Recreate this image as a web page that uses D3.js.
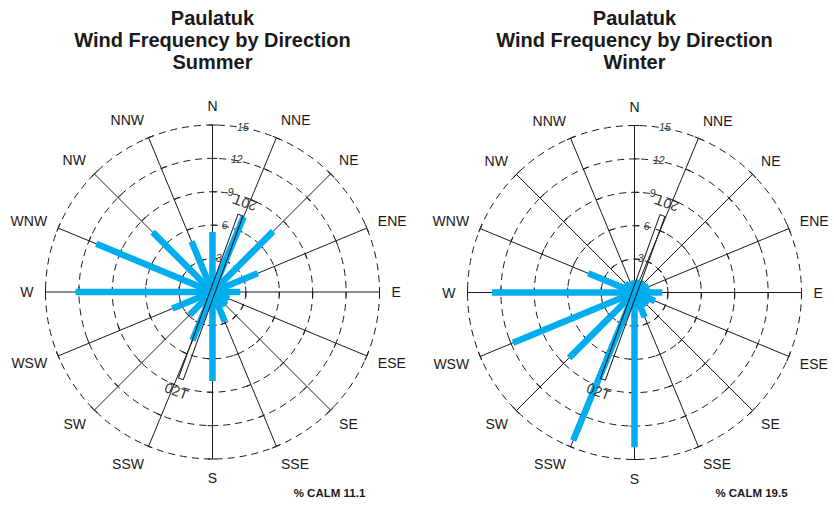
<!DOCTYPE html>
<html>
<head>
<meta charset="utf-8">
<script src="https://cdn.jsdelivr.net/npm/d3@7"></script>
<style>
	body { margin: 0; background: #fff; }
	svg { display: block; font-family: 'Liberation Sans', Arial, sans-serif; }
</style>
</head>
<body>
<div id="chart"></div>
<script>
// wind rose data (percent frequency by direction)
const directions = ['N','NNE','NE','ENE','E','ESE','SE','SSE','S','SSW','SW','WSW','W','WNW','NW','NNW']
const summer = [5.4, 7.3, 7.7, 4.4, 2.5, 1.6, 1.7, 2.9, 8.0, 4.7, 2.9, 3.9, 12.3, 11.3, 7.6, 4.9]
const winter = [1.1, 1.2, 1.3, 1.4, 2.5, 2.0, 1.6, 2.4, 13.9, 14.4, 8.3, 11.8, 12.8, 4.5, 1.2, 1.0]
const ringTicks = [3, 6, 9, 12, 15]
const calm = { summer: 11.1, winter: 19.5 }
const seasons = ['Summer', 'Winter']
const station = 'Paulatuk'

// runway 02T / 20T
const runwayHeading = 20
const runwayNorth = 7.35
const runwaySouth = 8.3

const W = 834, H = 506
const blue = '#00adef'
const ink = '#1a1a1a'

const svg = d3.select('#chart')
	.append('svg')
	.attr('width', W)
	.attr('height', H)

const r = d3.scaleLinear().domain([0, 15]).range([0, 167])
const ang = d3.scaleLinear().domain([0, directions.length]).range([0, 360])

function pt(deg, rad) {
	const a = deg * Math.PI / 180
	return [rad * Math.sin(a), -rad * Math.cos(a)]
}

function rose(cx, cy, season, values, calmValue) {
	const g = svg.append('g').attr('transform', `translate(${cx},${cy})`)

	// title
	const title = svg.append('text')
		.attr('x', cx)
		.attr('text-anchor', 'middle')
		.attr('font-weight', 'bold')
		.attr('font-size', 20)
		.attr('fill', ink)
	;[station, 'Wind Frequency by Direction', season].forEach((t, i) => {
		title.append('tspan').attr('x', cx).attr('y', 25 + i * 22).text(t)
	})

	// dashed rings
	g.selectAll('.ring')
		.data(ringTicks)
		.join('circle')
		.attr('r', d => r(d))
		.attr('fill', 'none')
		.attr('stroke', ink)
		.attr('stroke-width', 1)
		.attr('stroke-dasharray', '7,5')

	// spokes
	g.selectAll('.spoke')
		.data(directions)
		.join('line')
		.attr('x1', 0).attr('y1', 0)
		.attr('x2', (d, i) => pt(ang(i), r(15))[0])
		.attr('y2', (d, i) => pt(ang(i), r(15))[1])
		.attr('stroke', ink)
		.attr('stroke-width', 1)

	// ticks on spokes
	const ticks = []
	directions.forEach((d, i) => ringTicks.forEach(v => ticks.push({ i, v })))
	g.selectAll('.tick')
		.data(ticks)
		.join('line')
		.attr('transform', d => `rotate(${ang(d.i)}) translate(0,${-r(d.v)})`)
		.attr('x1', d => d.v === 15 ? -4 : 0)
		.attr('x2', 5)
		.attr('y1', 0).attr('y2', 0)
		.attr('stroke', ink)
		.attr('stroke-width', 1)

	// direction labels: box corner sits on the label circle
	g.selectAll('.dlabel')
		.data(directions)
		.join('text')
		.attr('x', (d, i) => pt(ang(i), 179)[0])
		.attr('y', (d, i) => pt(ang(i), 179)[1] - Math.cos(ang(i) * Math.PI / 180) * 7)
		.attr('text-anchor', (d, i) => {
			const s = Math.sin(ang(i) * Math.PI / 180)
			return Math.abs(s) < 0.01 ? 'middle' : (s > 0 ? 'start' : 'end')
		})
		.attr('dominant-baseline', 'central')
		.attr('font-size', 14)
		.attr('fill', ink)
		.text(d => d)

	// bars
	g.selectAll('.bar')
		.data(values)
		.join('line')
		.attr('x1', 0).attr('y1', 0)
		.attr('x2', (d, i) => pt(ang(i), r(d))[0])
		.attr('y2', (d, i) => pt(ang(i), r(d))[1])
		.attr('stroke', blue)
		.attr('stroke-width', 6.5)

	// runway
	const rw = g.append('g').attr('transform', `rotate(${runwayHeading})`)
	rw.append('rect')
		.attr('x', -2.6)
		.attr('y', -r(runwayNorth))
		.attr('width', 5.2)
		.attr('height', r(runwayNorth) + r(runwaySouth))
		.attr('fill', 'none')
		.attr('stroke', ink)
		.attr('stroke-width', 1)
	const n = pt(runwayHeading, r(runwayNorth) + 13)
	g.append('text')
		.attr('transform', `translate(${n[0]},${n[1]}) rotate(${runwayHeading + 180})`)
		.attr('text-anchor', 'middle')
		.attr('dominant-baseline', 'central')
		.attr('font-size', 14)
		.attr('fill', '#333')
		.text('20T')
	const s = pt(runwayHeading + 180, r(runwaySouth) + 13)
	g.append('text')
		.attr('transform', `translate(${s[0]},${s[1]}) rotate(${runwayHeading})`)
		.attr('text-anchor', 'middle')
		.attr('dominant-baseline', 'central')
		.attr('font-size', 14)
		.attr('fill', '#333')
		.text('02T')

	// ring labels (on top)
	g.selectAll('.rlabel')
		.data(ringTicks)
		.join('text')
		.attr('x', d => pt(10.5, r(d))[0])
		.attr('y', d => pt(10.5, r(d))[1])
		.attr('text-anchor', 'middle')
		.attr('dominant-baseline', 'middle')
		.attr('font-size', 10.5)
		.attr('font-style', 'italic')
		.attr('fill', '#333')
		.text(d => d)

	// calm
	svg.append('text')
		.attr('x', cx + 117)
		.attr('y', 497)
		.attr('text-anchor', 'middle')
		.attr('font-size', 11.5)
		.attr('font-weight', 'bold')
		.attr('fill', ink)
		.text('% CALM ' + calmValue)
}

rose(212.5, 292, seasons[0], summer, calm.summer)
rose(634.5, 292.5, seasons[1], winter, calm.winter)
</script>
</body>
</html>
